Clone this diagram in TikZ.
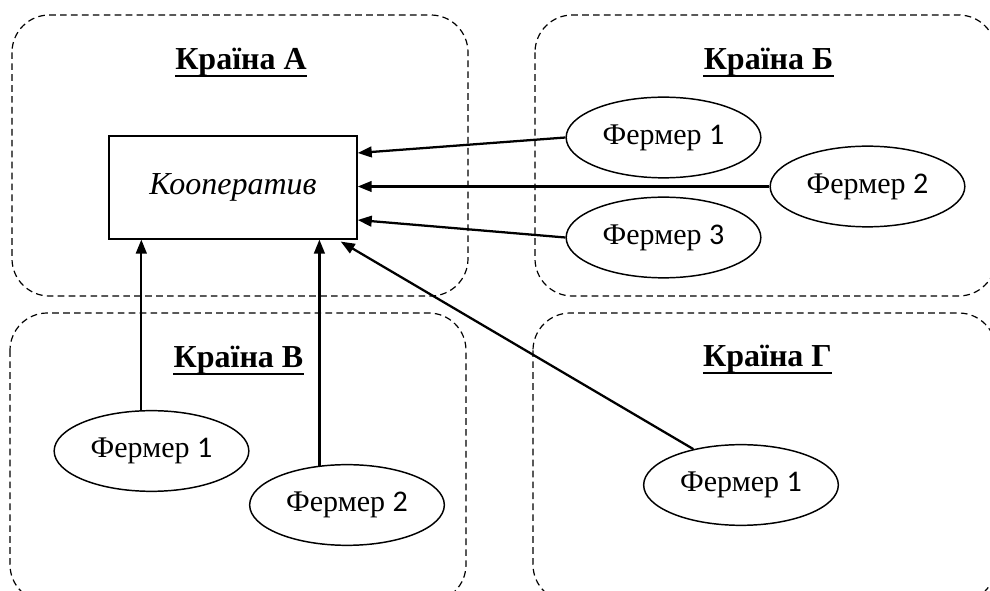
\documentclass[tikz,border=0pt]{standalone}
\usepackage{fontspec}
\setmainfont{Liberation Serif}
\newfontfamily\digitfont{Carlito}
\usetikzlibrary{shapes.geometric,arrows.meta,calc}
\tikzset{
  region/.style={draw, dashed, dash pattern=on 5pt off 3.2pt, line width=0.9pt, rounded corners=28pt},
  title/.style={inner sep=0pt, anchor=base, font=\fontsize{24}{28}\selectfont\bfseries},
  farmer/.style={draw, ellipse, line width=1.1pt, inner sep=0pt, minimum width=146pt, minimum height=60.5pt, font=\fontsize{22.5}{26}\selectfont},
  coopbox/.style={draw, rectangle, line width=1.1pt, inner sep=0pt, minimum width=186pt, minimum height=77pt, font=\fontsize{24}{28}\selectfont\itshape},
  arr/.style={line width=1.7pt, -{Triangle[length=10.5pt, width=8pt]}},
  uline/.style={line width=2pt}
}
\newcommand{\farmertext}[1]{Фермер {\digitfont #1}}
\begin{document}
\begin{tikzpicture}[x=0.75pt, y=-0.75pt]
\useasboundingbox (0,0) rectangle (990,591);
\clip (0,0) rectangle (990,591);
% regions
\draw[region] (12,15) rectangle (468,296);
\draw[region] (535,15) rectangle (996,296);
\draw[region] (10,313) rectangle (466,602);
\draw[region] (533,313) rectangle (996,602);
% titles
\node[title] (tA) at (241,70) {Країна А};
\node[title] (tB) at (768.5,70) {Країна Б};
\node[title] (tV) at (238.5,368) {Країна В};
\node[title] (tG) at (767.5,367) {Країна Г};
\foreach \t in {tA,tB,tV,tG}{
  \draw[uline] ($(\t.base west)+(0,6)$) -- ($(\t.base east)+(0,6)$);
}
% cooperative
\node[coopbox] (coop) at (233,187.5) {Кооператив};
% farmers
\node[farmer] (bF1) at (663.5,137.5) {\farmertext{1}};
\node[farmer] (bF2) at (867.5,186.5) {\farmertext{2}};
\node[farmer] (bF3) at (663.5,237.5) {\farmertext{3}};
\node[farmer] (vF1) at (151.5,451) {\farmertext{1}};
\node[farmer] (vF2) at (347,505) {\farmertext{2}};
\node[farmer] (gF1) at (741,485) {\farmertext{1}};
% connectors
\draw[arr] (bF1.west) -- ($(coop.east)+(0,-34.5)$);
\draw[arr] (bF2.west) -- (bF2.west -| coop.east);
\draw[arr] (bF3.west) -- ($(coop.east)+(0,32.5)$);
\draw[arr] (vF1.104) -- (vF1.104 |- coop.south);
\draw[arr] (vF2.125) -- (vF2.125 |- coop.south);
\draw[arr] (gF1.143) -- ($(coop.south east)+(-17,2)$);
\end{tikzpicture}
\end{document}
